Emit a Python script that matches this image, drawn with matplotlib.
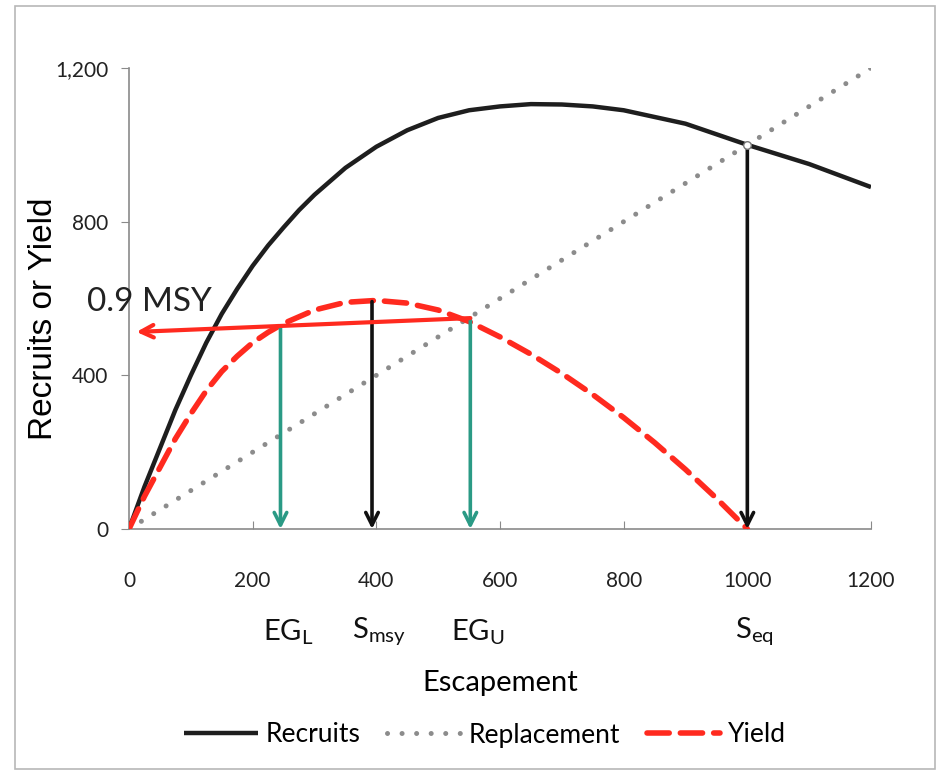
import matplotlib.pyplot as plt
from matplotlib.patches import Rectangle
from matplotlib.ticker import FuncFormatter

# stock-recruit curve read at fixed escapement levels
escapement = [0, 25, 50, 75, 100, 125, 150, 175, 200, 225, 250, 275, 300,
              350, 400, 450, 500, 550, 600, 650, 700, 750, 800, 900, 1000,
              1100, 1200]
recruits = [0, 110, 210, 310, 400, 485, 560, 625, 685, 738, 785, 830, 870,
            940, 995, 1038, 1070, 1090, 1100, 1106, 1105, 1100, 1090, 1055,
            1000, 950, 890]

# yield = recruits - escapement, out to the equilibrium point
yield_s = [0, 25, 50, 75, 100, 125, 150, 175, 200, 225, 250, 300, 350, 400,
           450, 500, 550, 600, 650, 700, 750, 800, 850, 900, 950, 1000]
yield_v = [0, 85, 160, 235, 300, 360, 410, 450, 485, 512, 535, 570, 590, 595,
           588, 570, 540, 500, 455, 405, 350, 290, 225, 155, 80, 0]

repl = [0, 1200]

# reference points (escapement, value on curve)
eg_lower = (245, 524)
s_msy = (393, 592)
eg_upper = (552, 549)
s_eq = (1000, 1000)
msy90_tip = (12, 513)

yticks = [0, 400, 800, 1200]
xticks = [0, 200, 400, 600, 800, 1000, 1200]

calibri = ['Lato', 'DejaVu Sans']

fig = plt.figure(figsize=(9.4, 7.75), dpi=100)
fig.patches.append(Rectangle((15 / 940, 6 / 775), 920 / 940, 763 / 775,
                             transform=fig.transFigure, fill=False,
                             ec='#b8b8b8', lw=1.2))
ax = fig.add_axes([129 / 940, 246 / 775, 742 / 940, 461 / 775])

ax.plot(repl, repl, color='#8c8c8c', lw=3.6, linestyle=(0, (0.01, 2.9)),
        dash_capstyle='round', label='Replacement', zorder=2)
ax.plot(escapement, recruits, color='#1e1e1e', lw=3.2, label='Recruits',
        zorder=3, solid_capstyle='butt', solid_joinstyle='round')
ax.plot(yield_s, yield_v, color='#ff2a1f', lw=4, linestyle=(0, (4, 2)),
        dash_capstyle='round', label='Yield', zorder=4)
ax.scatter([s_eq[0]], [s_eq[1]], s=30, color='white', edgecolor='#777777',
           lw=1, zorder=6)

def down_arrow(pt, color):
    ax.annotate('', xy=(pt[0], 0), xytext=pt,
                arrowprops=dict(arrowstyle='->,head_length=0.9,head_width=0.45',
                                color=color, lw=2.6, shrinkA=0, shrinkB=0),
                zorder=5)

down_arrow(eg_lower, '#2a9a85')
down_arrow(eg_upper, '#2a9a85')
down_arrow(s_msy, '#111111')
down_arrow(s_eq, '#111111')

ax.annotate('', xy=msy90_tip, xytext=eg_upper,
            arrowprops=dict(arrowstyle='->,head_length=0.9,head_width=0.45',
                            color='#ff2a1f', lw=3, shrinkA=0, shrinkB=0),
            zorder=5)
ax.text(-68, 590, '0.9 MSY', fontsize=24, family=calibri, color='#222222',
        va='center', ha='left', clip_on=False)

ax.set_xlim(0, 1200)
ax.set_ylim(0, 1200)
ax.set_xticks(xticks)
ax.set_yticks(yticks)
ax.yaxis.set_major_formatter(FuncFormatter(lambda v, p: f'{int(v):,}'))
for s in ['top', 'right']:
    ax.spines[s].set_visible(False)
for s in ['left', 'bottom']:
    ax.spines[s].set_color('#8a8a8a')
    ax.spines[s].set_linewidth(1.2)
ax.tick_params(axis='y', direction='out', length=6, color='#8a8a8a', pad=9)
ax.tick_params(axis='x', direction='in', length=6, color='#8a8a8a', pad=30)
for lab in ax.get_xticklabels() + ax.get_yticklabels():
    lab.set_fontfamily(calibri)
    lab.set_fontsize(15)
    lab.set_color('#222222')

ax.set_ylabel('Recruits or Yield', fontsize=24, family='Liberation Sans')
ax.yaxis.set_label_coords(-0.095, 0.455)

# reference point names under the axis
ref_names = [(eg_lower[0], r'EG$_\mathregular{L}$'), (s_msy[0], r'S$_\mathregular{msy}$'),
             (eg_upper[0], r'EG$_\mathregular{U}$'), (s_eq[0], r'S$_\mathregular{eq}$')]
for xv, name in ref_names:
    ax.text(xv + 12, -268, name, fontsize=21, family=calibri, ha='center',
            va='center', color='#111111', transform=ax.transData, clip_on=False)

ax.set_xlabel('Escapement', fontsize=21, family=calibri, labelpad=57)

handles, labels = ax.get_legend_handles_labels()
order = [1, 0, 2]
leg = fig.legend([handles[i] for i in order], [labels[i] for i in order],
                 loc='center', bbox_to_anchor=(0.516, 40 / 775), ncol=3,
                 frameon=False, prop={'family': calibri, 'size': 19},
                 handlelength=2.8, columnspacing=1.0, handletextpad=0.3)

fig.savefig('out.png', dpi=100, facecolor='white')
